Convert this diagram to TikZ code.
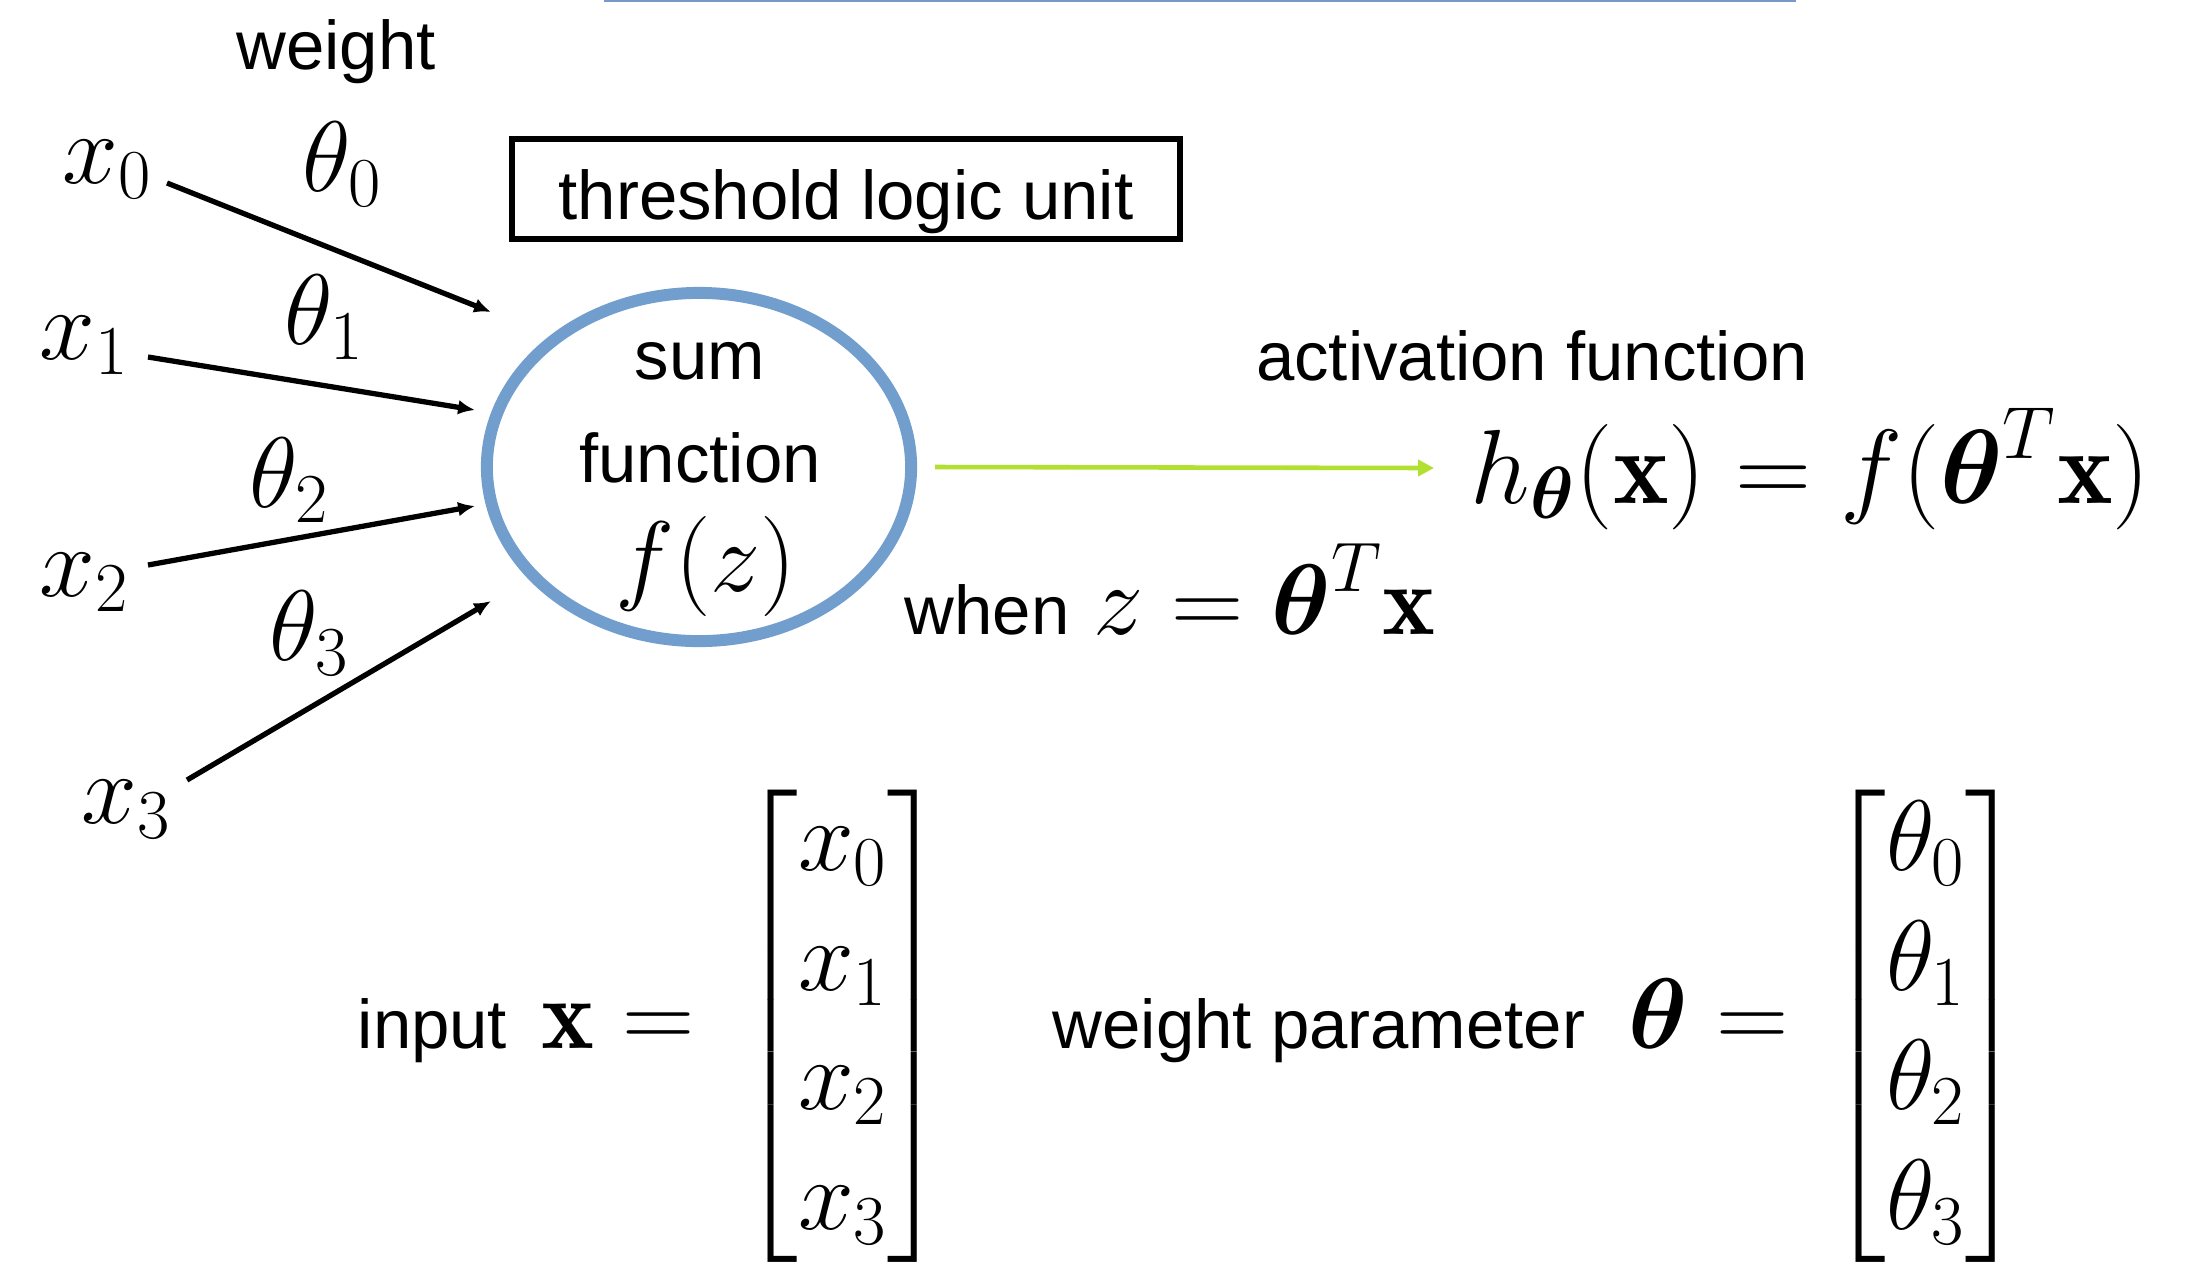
\RequirePackage{fix-cm}
\documentclass[tikz,border=0pt]{standalone}
\usepackage{amsmath}
\usepackage{fontspec}
\newfontfamily\arial{Liberation Sans}
\usetikzlibrary{arrows.meta,shapes.geometric}
\definecolor{ringblue}{RGB}{114,158,206}
\definecolor{actgreen}{RGB}{178,224,48}
\definecolor{lineblue}{RGB}{120,152,200}
\tikzset{
  sanslab/.style={font=\arial\fontsize{19.6}{23.5}\selectfont, inner sep=0pt},
  mathlab/.style={font=\fontsize{28.5}{34}\selectfont, inner sep=0pt},
  inarrow/.style={line width=1.5pt, -{Latex[length=4.8pt,width=4.2pt]}},
  actarrow/.style={draw=actgreen, line width=1.3pt, -{Triangle[length=4.5pt,width=4.5pt]}},
  ring/.style={ellipse, draw=ringblue, line width=3.4pt, minimum width=4.24cm, minimum height=3.48cm, inner sep=0pt},
  tluBox/.style={draw, line width=1.7pt, minimum width=6.68cm, minimum height=1cm, inner xsep=0pt, inner ysep=0pt, text height=0.8cm, text depth=0.2cm, font=\arial\fontsize{19.6}{23.5}\selectfont}
}
\begin{document}
\begin{tikzpicture}[x=0.01cm,y=-0.01cm]
\useasboundingbox (0,0) rectangle (2204,1266);
% top thin line
\coordinate (tl1) at (604,1);
\coordinate (tl2) at (1796,1);
\draw[lineblue, line width=0.6pt] (tl1) -- (tl2);

% labels
\node[sanslab, anchor=base] (wlab) at (336,69) {weight};
\node[tluBox] (tlu) at (846,189) {threshold logic unit};

\node[mathlab, anchor=base west] (x0) at (62,183) {$x_0$};
\node[mathlab, anchor=base west] (x1) at (39,359) {$x_1$};
\node[mathlab, anchor=base west] (x2) at (39,596) {$x_2$};
\node[mathlab, anchor=base west] (x3) at (81,823) {$x_3$};
\node[mathlab, anchor=base west] (th0) at (302,191) {$\theta_0$};
\node[mathlab, anchor=base west] (th1) at (284,344) {$\theta_1$};
\node[mathlab, anchor=base west] (th2) at (249,507) {$\theta_2$};
\node[mathlab, anchor=base west] (th3) at (269,660) {$\theta_3$};

% sum unit
\node[ring] (circ) at (699,467) {};
\node[sanslab, anchor=base] (sumt) at (700,379) {sum};
\node[sanslab, anchor=base] (funct) at (700,482) {function};
\node[mathlab, anchor=base] (fz) at (706,591) {$f(z)$};

% input arrows
\coordinate (s0) at (167,183); \coordinate (t0) at (491,312);
\coordinate (s1) at (148,357); \coordinate (t1) at (475,410);
\coordinate (s2) at (148,565); \coordinate (t2) at (475,506);
\coordinate (s3) at (187,780); \coordinate (t3) at (491,601);
\draw[inarrow] (s0) -- (t0);
\draw[inarrow] (s1) -- (t1);
\draw[inarrow] (s2) -- (t2);
\draw[inarrow] (s3) -- (t3);

% activation
\node[sanslab, anchor=base] (actl) at (1532,380) {activation function};
\node[mathlab, font=\fontsize{30}{36}\selectfont, anchor=base west] (hx) at (1470,503) {$h_{\boldsymbol{\theta}}(\mathbf{x}) = f(\boldsymbol{\theta}^T\mathbf{x})$};
\coordinate (gtip) at (1434,468);
\draw[actarrow] ([xshift=0.18cm]circ.east) -- (gtip);

% when
\node[sanslab, anchor=base west] (when) at (904,634) {when};
\node[mathlab, anchor=base west] (zeq) at (1093,634) {$z = \boldsymbol{\theta}^T\mathbf{x}$};

% vectors
\node[sanslab, anchor=base west] (inp) at (357,1048) {input};
\node[mathlab, anchor=base west] (xeq) at (541,1048) {$\mathbf{x} =$};
\node[mathlab] (xvec) at (843,1026) {$\left[\begin{matrix} x_0\\ x_1\\ x_2\\ x_3 \end{matrix}\right]$};
\node[sanslab, anchor=base west] (wp) at (1052,1048) {weight parameter};
\node[mathlab, anchor=base west] (theq) at (1628,1048) {$\boldsymbol{\theta} =$};
\node[mathlab] (thvec) at (1926,1026) {$\left[\begin{matrix} \theta_0\\ \theta_1\\ \theta_2\\ \theta_3 \end{matrix}\right]$};
\end{tikzpicture}
\end{document}
